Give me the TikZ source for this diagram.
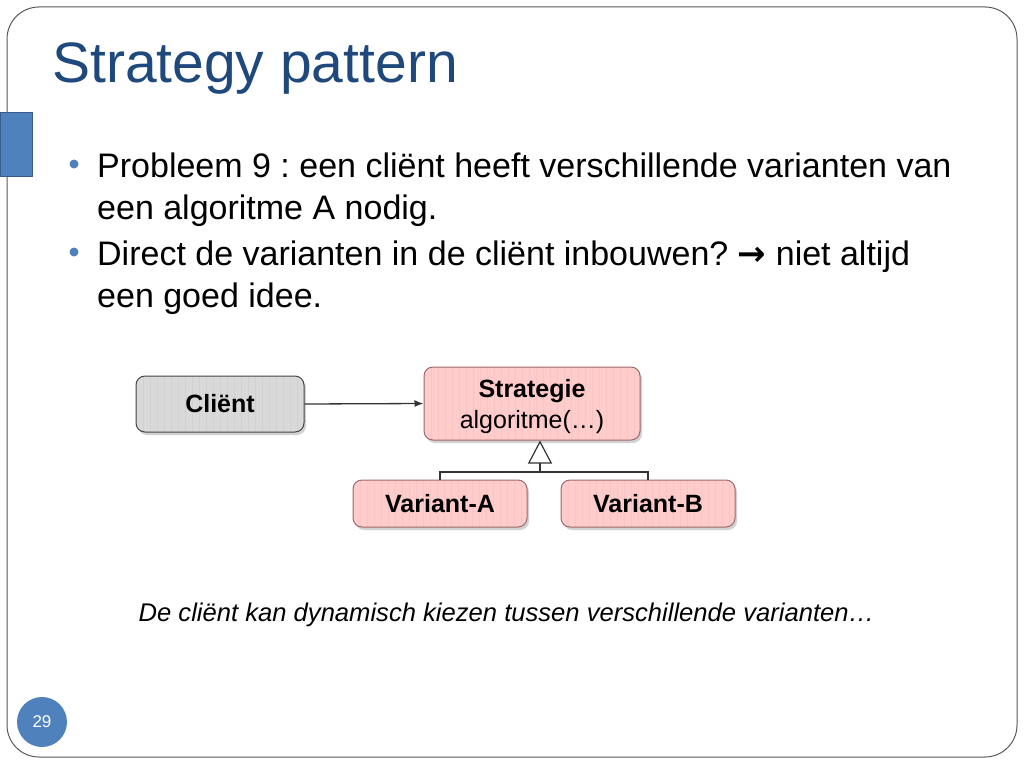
\documentclass[tikz,border=0pt]{standalone}
\usepackage{fontspec}
\setmainfont{Liberation Sans}
\newfontfamily\arrowfont{DejaVu Sans}
\usetikzlibrary{shadows,arrows.meta}
\frenchspacing
\definecolor{titleblue}{RGB}{31,73,125}
\definecolor{accblue}{RGB}{79,129,189}
\definecolor{accborder}{RGB}{56,93,138}
\definecolor{clientfill}{RGB}{217,217,217}
\definecolor{clientstripe}{RGB}{209,209,209}
\definecolor{clientborder}{RGB}{70,70,70}
\definecolor{pinkfill}{RGB}{255,204,204}
\definecolor{pinkstripe}{RGB}{250,196,196}
\definecolor{pinkborder}{RGB}{160,105,105}
\definecolor{framegray}{RGB}{90,90,90}
\tikzset{
  striped/.style={path picture={
    \foreach \i in {0,7,...,240}
      \draw[#1,line width=0.5pt] ([xshift=\i pt]path picture bounding box.south west) -- ([xshift=\i pt]path picture bounding box.north west);
  }},
  umlbox/.style={draw, rounded corners=9pt, line width=1pt, inner sep=0pt,
    font=\fontsize{25}{31}\selectfont, align=center,
    drop shadow={shadow xshift=2pt, shadow yshift=-3pt, opacity=0.35}},
  clientbox/.style={umlbox, fill=clientfill, draw=clientborder, striped=clientstripe},
  pinkbox/.style={umlbox, fill=pinkfill, draw=pinkborder, striped=pinkstripe},
  bodytext/.style={anchor=base west, inner sep=0pt, font=\fontsize{34}{42}\selectfont},
  bulletdot/.style={circle, fill=accblue, inner sep=0pt, minimum size=9pt},
  conn/.style={draw=black!80, line width=1.3pt},
}
\begin{document}
\begin{tikzpicture}[x=1pt,y=-1pt]
\useasboundingbox (0,0) rectangle (1024,768);
\fill[white] (0,0) rectangle (1024,768);
% slide frame
\draw[framegray, line width=1pt, rounded corners=32pt] (7,7) rectangle (1017,757);
% left accent bar
\draw[fill=accblue, draw=accborder, line width=1pt] (0,112) rectangle (32,176);
% title
\node[anchor=base west, inner sep=0pt, text=titleblue, font=\fontsize{57}{60}\selectfont] (title) at (52,82) {Strategy pattern};
% bullets
\node[bulletdot] (b1) at (74,164) {};
\node[bodytext] (l1) at (97,177) {Probleem 9 : een cliënt heeft verschillende varianten van};
\node[bodytext] (l2) at (97,219) {een algoritme A nodig.};
\node[bulletdot] (b2) at (74,252) {};
\node[bodytext] (l3) at (97,265) {Direct de varianten in de cliënt inbouwen? {\arrowfont\bfseries →} niet altijd};
\node[bodytext] (l4) at (97,307) {een goed idee.};
% diagram
\node[clientbox, minimum width=168pt, minimum height=56pt] (client) at (220,404) {\bfseries Cliënt};
\node[pinkbox, minimum width=216pt, minimum height=73pt] (strat) at (532,403.5) {\rule{0pt}{25pt}{\bfseries Strategie}\\algoritme(…)};
\node[pinkbox, minimum width=174pt, minimum height=47pt] (va) at (440,503.5) {\bfseries Variant-A};
\node[pinkbox, minimum width=174pt, minimum height=47pt] (vb) at (648,503.5) {\bfseries Variant-B};
\coordinate (junc) at (540,472);
\coordinate (apex) at (540,440.5);
\draw[conn, -{Latex[length=9pt,width=7pt]}] (client.east) -- (strat.west);
\draw[conn] (va.north) |- (junc) -| (vb.north);
\draw[conn, -{Triangle[open, fill=white, length=23pt, width=24pt, line width=1.2pt]}] (junc) -- (apex);
% caption
\node[anchor=base, inner sep=0pt, font=\itshape\fontsize{25.6}{30}\selectfont] (caption) at (506.5,621) {De cliënt kan dynamisch kiezen tussen verschillende varianten…};
% page number
\node[circle, fill=accblue, minimum size=50pt, inner sep=0pt, text=white, font=\fontsize{17}{20}\selectfont] (pagenum) at (42,722) {29};
\end{tikzpicture}
\end{document}
